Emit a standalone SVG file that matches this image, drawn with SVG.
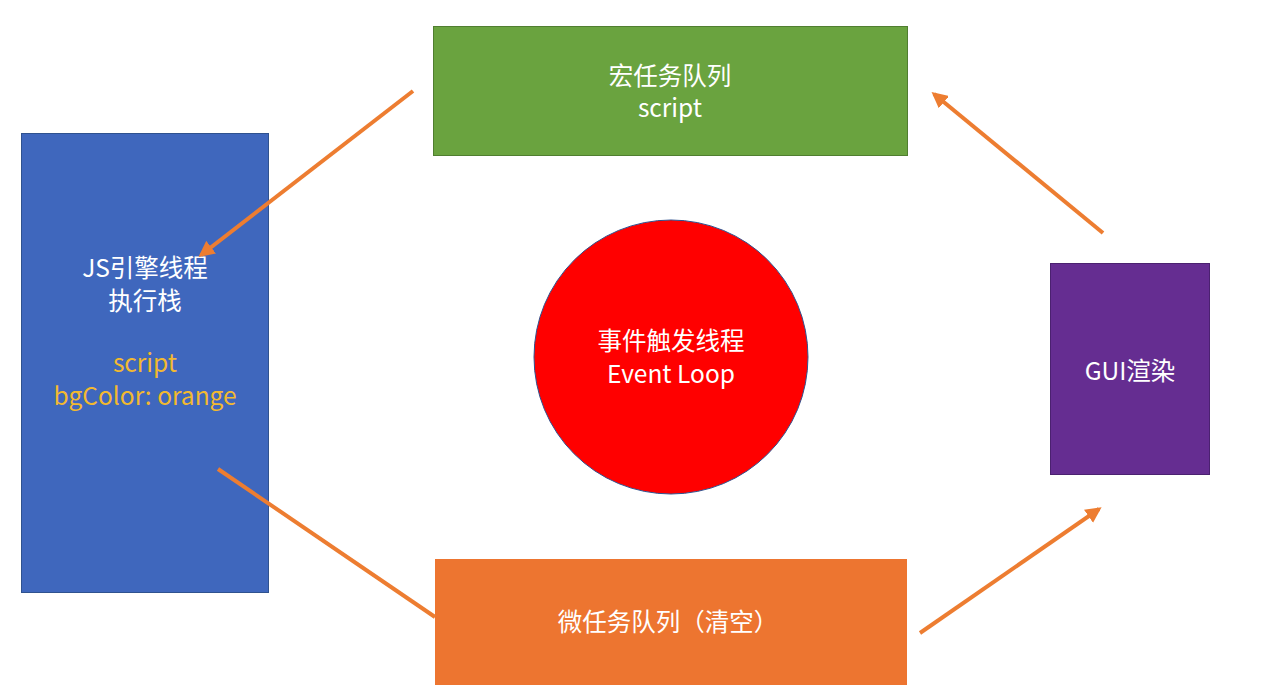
<svg xmlns="http://www.w3.org/2000/svg" width="1261" height="699" viewBox="0 0 1261 699">
<style>
text{font-family:"Noto Sans CJK SC","Noto Sans",sans-serif;font-size:24.5px;text-anchor:middle;dominant-baseline:central;fill:#fff}
.y{fill:#F2B930}
.c{stroke:#ED7D31;stroke-width:4;fill:none}
</style>
<defs>
<marker id="ah" viewBox="0 0 10 10" refX="8" refY="5" markerWidth="4" markerHeight="4" orient="auto" markerUnits="strokeWidth">
<path d="M0,0L10,5L0,10z" fill="#ED7D31"/>
</marker>
</defs>
<rect width="1261" height="699" fill="#fff"/>
<g id="macro">
<rect x="433.5" y="26.5" width="474" height="129" fill="#6AA33F" stroke="#507E30"/>
<text x="670" y="74">宏任务队列</text>
<text x="670" y="106">script</text>
</g>
<g id="js">
<rect x="21.5" y="133.5" width="247" height="459" fill="#3F67BD" stroke="#2F528F"/>
<text x="145" y="266">JS引擎线程</text>
<text x="145" y="299">执行栈</text>
<text x="145" y="361" class="y">script</text>
<text x="145" y="394" class="y">bgColor: orange</text>
</g>
<g id="eventloop">
<circle cx="671" cy="357" r="137" fill="#FF0000" stroke="#2F528F" stroke-width="1"/>
<text x="671" y="339">事件触发线程</text>
<text x="671" y="372">Event Loop</text>
</g>
<g id="gui">
<rect x="1050.5" y="263.5" width="159" height="211" fill="#652D91" stroke="#4B2170"/>
<text x="1130" y="369">GUI渲染</text>
</g>
<g id="micro">
<rect x="435" y="559" width="472" height="126" fill="#ED7530"/>
<text x="668" y="620">微任务队列（清空）</text>
</g>
<g id="connectors">
<line class="c" x1="413" y1="91" x2="201" y2="255" marker-end="url(#ah)"/>
<line class="c" x1="1103" y1="233" x2="934" y2="94" marker-end="url(#ah)"/>
<line class="c" x1="218" y1="469" x2="435" y2="617"/>
<line class="c" x1="920" y1="633" x2="1099" y2="509" marker-end="url(#ah)"/>
</g>
</svg>
